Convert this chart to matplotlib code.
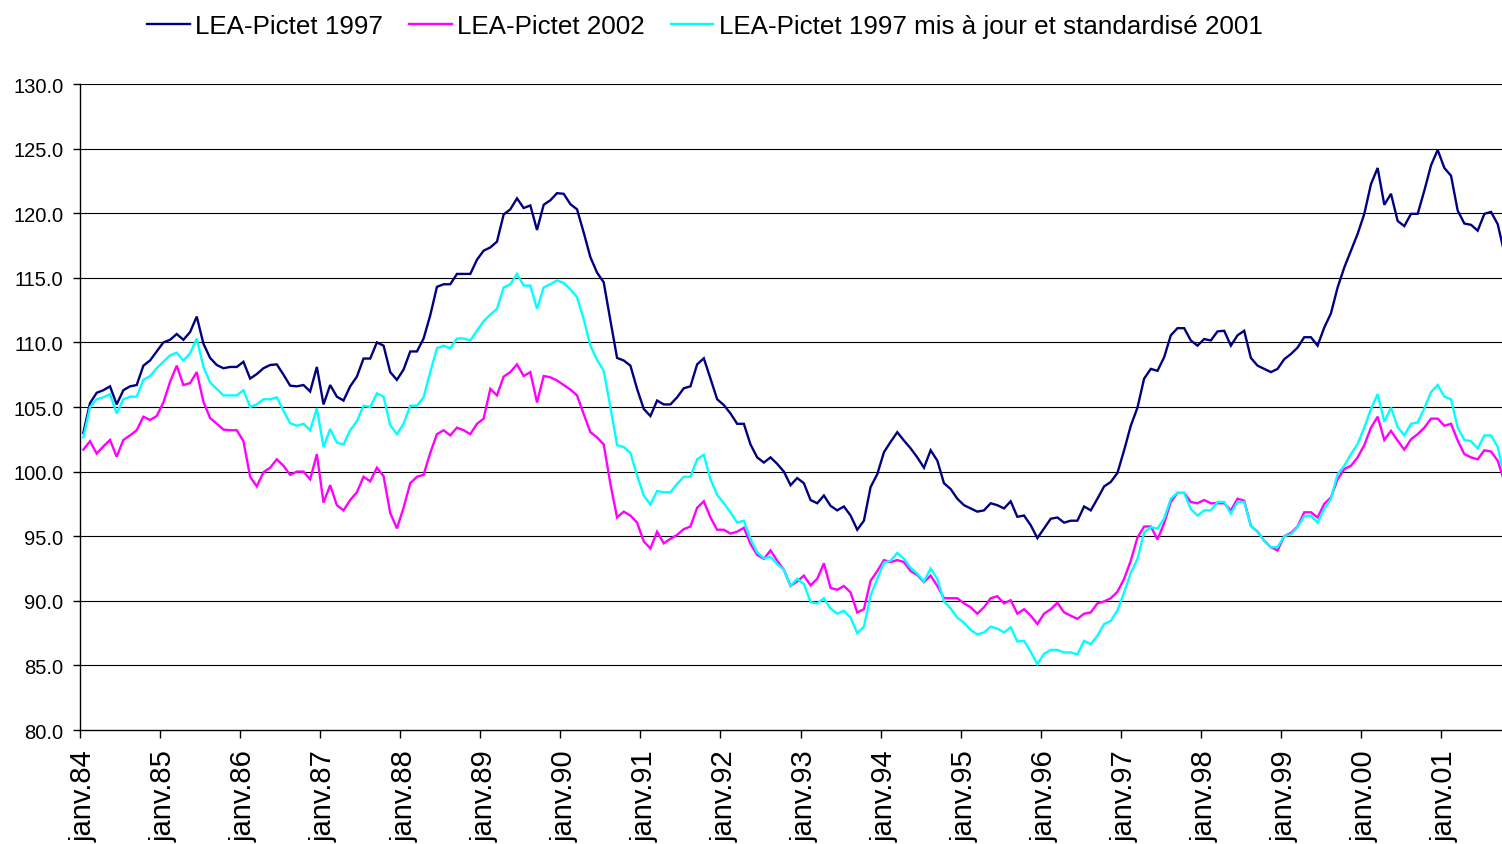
import matplotlib
matplotlib.use("Agg")
import matplotlib.pyplot as plt
import matplotlib.transforms as mtransforms
import numpy as np

plt.rcParams['font.family'] = ['Liberation Sans', 'DejaVu Sans']

# Monthly observations, Jan 1984 onward
lea_1997 = [
    103.0, 105.3, 106.1, 106.3, 106.6, 105.2, 106.3, 106.6, 106.7, 108.2, 108.6, 109.3,
    110.0, 110.2, 110.65, 110.2, 110.8, 112.0, 109.9, 108.8, 108.25, 108.0, 108.1, 108.1,
    108.5, 107.2, 107.55, 108.0, 108.25, 108.3, 107.5, 106.65, 106.6, 106.7, 106.2, 108.1,
    105.2, 106.7, 105.8, 105.5, 106.6, 107.35, 108.75, 108.75, 110.0, 109.75, 107.7, 107.1,
    107.9, 109.3, 109.3, 110.3, 112.1, 114.3, 114.5, 114.5, 115.3, 115.3, 115.3, 116.4,
    117.1, 117.35, 117.8, 119.9, 120.3, 121.15, 120.4, 120.6, 118.7, 120.65, 121.0, 121.55,
    121.5, 120.7, 120.3, 118.5, 116.6, 115.4, 114.65, 111.7, 108.8, 108.6, 108.2, 106.4,
    104.85, 104.3, 105.5, 105.2, 105.2, 105.75, 106.45, 106.6, 108.3, 108.77, 107.2, 105.6,
    105.15, 104.5, 103.7, 103.7, 102.1, 101.1, 100.7, 101.1, 100.6, 100.0, 98.95, 99.5,
    99.1, 97.8, 97.55, 98.15, 97.35, 97.0, 97.3, 96.6, 95.5, 96.2, 98.8, 99.8,
    101.5, 102.3, 103.05, 102.4, 101.8, 101.1, 100.3, 101.65, 100.85, 99.1, 98.65, 97.9,
    97.4, 97.15, 96.9, 97.0, 97.55, 97.4, 97.15, 97.7, 96.5, 96.6, 95.85, 94.85,
    95.6, 96.35, 96.45, 96.05, 96.2, 96.2, 97.3, 97.0, 97.9, 98.85, 99.2, 99.9,
    101.65, 103.55, 104.95, 107.2, 107.95, 107.8, 108.85, 110.55, 111.1, 111.1, 110.15, 109.75,
    110.26, 110.15, 110.85, 110.9, 109.75, 110.55, 110.9, 108.8, 108.2, 107.95, 107.7, 107.95,
    108.7, 109.1, 109.6, 110.4, 110.4, 109.75, 111.15, 112.25, 114.25, 115.8, 117.1, 118.4,
    119.95, 122.25, 123.5, 120.65, 121.5, 119.4, 119.0, 119.95, 119.95, 121.75, 123.7, 124.9,
    123.5, 122.9, 120.2, 119.2, 119.1, 118.65, 119.95, 120.1, 119.15, 116.9,
]

lea_2002 = [
    101.7, 102.35, 101.4, 101.95, 102.45, 101.15, 102.45, 102.8, 103.2, 104.25, 104.0, 104.3,
    105.35, 106.95, 108.2, 106.7, 106.85, 107.7, 105.4, 104.15, 103.7, 103.25, 103.2, 103.2,
    102.35, 99.6, 98.85, 99.95, 100.3, 100.95, 100.45, 99.75, 100.0, 100.0, 99.4, 101.35,
    97.6, 98.95, 97.4, 97.0, 97.8, 98.4, 99.6, 99.25, 100.3, 99.65, 96.8, 95.6,
    97.2, 99.1, 99.6, 99.75, 101.45, 102.9, 103.2, 102.8, 103.4, 103.2, 102.9, 103.7,
    104.1, 106.4, 105.9, 107.35, 107.7, 108.3, 107.4, 107.7, 105.35, 107.4, 107.3, 107.05,
    106.7, 106.35, 105.9, 104.45, 103.05, 102.65, 102.1, 99.05, 96.45, 96.9, 96.6, 96.05,
    94.6, 94.05, 95.35, 94.45, 94.8, 95.1, 95.55, 95.75, 97.2, 97.7, 96.45, 95.5,
    95.5, 95.2, 95.35, 95.65, 94.4, 93.55, 93.25, 93.9, 93.1, 92.4, 91.15, 91.5,
    91.95, 91.2, 91.7, 92.9, 91.0, 90.85, 91.15, 90.65, 89.1, 89.35, 91.55, 92.3,
    93.15, 93.0, 93.15, 93.0, 92.3, 92.0, 91.45, 91.95, 91.15, 90.2, 90.2, 90.2,
    89.8, 89.5, 89.0, 89.5, 90.2, 90.35, 89.8, 90.05, 89.0, 89.35, 88.85, 88.2,
    89.0, 89.35, 89.85, 89.1, 88.85, 88.6, 89.0, 89.1, 89.8, 89.95, 90.2, 90.7,
    91.7, 93.1, 94.9, 95.75, 95.75, 94.75, 96.0, 97.65, 98.35, 98.35, 97.65, 97.55,
    97.8, 97.55, 97.55, 97.55, 97.0, 97.9, 97.75, 95.8, 95.35, 94.65, 94.15, 93.9,
    95.0, 95.25, 95.75, 96.85, 96.85, 96.45, 97.5, 98.0, 99.4, 100.2, 100.45, 101.1,
    102.05, 103.4, 104.25, 102.45, 103.15, 102.4, 101.7, 102.5, 102.9, 103.4, 104.1, 104.1,
    103.55, 103.7, 102.4, 101.35, 101.1, 100.95, 101.65, 101.55, 100.85, 99.2,
]

lea_1997_std_2001 = [
    102.65, 105.0, 105.6, 105.75, 106.0, 104.5, 105.6, 105.8, 105.8, 107.1, 107.4, 108.0,
    108.5, 109.0, 109.2, 108.6, 109.15, 110.3, 108.1, 106.9, 106.4, 105.9, 105.9, 105.9,
    106.3, 105.0, 105.2, 105.6, 105.6, 105.75, 104.7, 103.75, 103.55, 103.7, 103.2, 104.9,
    101.9, 103.3, 102.25, 102.1, 103.2, 103.9, 105.1, 105.0, 106.05, 105.8, 103.6, 102.9,
    103.7, 105.1, 105.1, 105.75, 107.7, 109.55, 109.75, 109.55, 110.3, 110.3, 110.15, 110.9,
    111.65, 112.15, 112.6, 114.25, 114.5, 115.3, 114.4, 114.4, 112.6, 114.25, 114.5, 114.8,
    114.6, 114.1, 113.5, 111.8, 109.75, 108.65, 107.8, 105.0, 102.05, 101.9, 101.45, 99.7,
    98.15, 97.45, 98.5, 98.4, 98.4, 99.05, 99.6, 99.6, 100.95, 101.3, 99.4, 98.2,
    97.55, 96.85, 96.05, 96.2, 94.8, 93.75, 93.3, 93.4, 92.85, 92.4, 91.15, 91.7,
    91.3, 89.9, 89.8, 90.2, 89.4, 89.0, 89.23, 88.7, 87.5, 88.0, 90.4, 91.7,
    92.95, 93.1, 93.7, 93.25, 92.55, 92.1, 91.5, 92.5, 91.7, 89.95, 89.4, 88.7,
    88.3, 87.75, 87.4, 87.55, 88.0, 87.85, 87.55, 87.95, 86.85, 86.9, 86.05, 85.1,
    85.9, 86.2, 86.2, 86.0, 86.0, 85.85, 86.9, 86.65, 87.3, 88.2, 88.45, 89.25,
    90.65, 92.15, 93.25, 95.3, 95.7, 95.6, 96.35, 97.9, 98.35, 98.35, 97.1, 96.6,
    97.0, 97.0, 97.65, 97.65, 96.75, 97.65, 97.65, 95.8, 95.35, 94.65, 94.15, 94.15,
    95.0, 95.15, 95.7, 96.55, 96.6, 96.05, 97.1, 97.9, 99.8, 100.45, 101.35, 102.15,
    103.4, 104.85, 106.0, 103.85, 104.95, 103.45, 102.8, 103.7, 103.8, 104.9, 106.15, 106.7,
    105.8, 105.6, 103.4, 102.45, 102.35, 101.8, 102.8, 102.8, 101.9, 99.6,
]

tick_labels = ['janv.84', 'janv.85', 'janv.86', 'janv.87', 'janv.88', 'janv.89',
               'janv.90', 'janv.91', 'janv.92', 'janv.93', 'janv.94', 'janv.95',
               'janv.96', 'janv.97', 'janv.98', 'janv.99', 'janv.00', 'janv.01']
series_names = ['LEA-Pictet 1997', 'LEA-Pictet 2002',
                'LEA-Pictet 1997 mis à jour et standardisé 2001']
series_colors = ['#000080', '#FF00FF', '#00FFFF']
y_ticks = [80, 85, 90, 95, 100, 105, 110, 115, 120, 125, 130]

W, H = 1502, 845
fig = plt.figure(figsize=(W / 100, H / 100), dpi=100)
ax_left, ax_right, ax_top, ax_bottom = 80, 1502, 85, 731
ax = fig.add_axes([ax_left / W, 1 - ax_bottom / H,
                   (ax_right - ax_left) / W, (ax_bottom - ax_top) / H])

n = len(lea_1997)
x = np.arange(n) + 0.5
lines = []
for vals, name, col in zip([lea_1997, lea_2002, lea_1997_std_2001], series_names, series_colors):
    ln, = ax.plot(x, vals, color=col, lw=1.7, label=name, solid_joinstyle='miter')
    lines.append(ln)

months_per_px = 12 / 80.06
ax.set_xlim(0, (ax_right - ax_left) * months_per_px)
ax.set_ylim(80, 130)

ax.set_yticks(y_ticks)
ax.set_yticklabels([f'{v:.1f}' for v in y_ticks])
ax.set_xticks(np.arange(len(tick_labels)) * 12)
ax.set_xticklabels(tick_labels, rotation=90, va='top', ha='center')

for v in y_ticks[1:]:
    ax.axhline(v, color='black', lw=0.8, zorder=0)

for s in ['top', 'right']:
    ax.spines[s].set_visible(False)
for s in ['left', 'bottom']:
    ax.spines[s].set_color('black')
    ax.spines[s].set_linewidth(1.0)

ax.tick_params(axis='y', direction='out', length=5, width=1.0, pad=7,
               labelsize=14.5, colors='black')
ax.tick_params(axis='x', direction='out', length=6, width=1.0, pad=8,
               labelsize=21, colors='black')

# shift the rotated month labels slightly right, as in the original
offset = mtransforms.ScaledTranslation(4 / 100, 0, fig.dpi_scale_trans)
for lbl in ax.get_xticklabels():
    lbl.set_transform(lbl.get_transform() + offset)

fig.legend(handles=lines, loc='center left',
           bbox_to_anchor=(147 / W, 1 - 27 / H), ncol=3, frameon=False,
           fontsize=18.7, handlelength=1.65, handletextpad=0.2,
           columnspacing=1.0, borderpad=0, borderaxespad=0)

fig.savefig('out.png', dpi=100)
